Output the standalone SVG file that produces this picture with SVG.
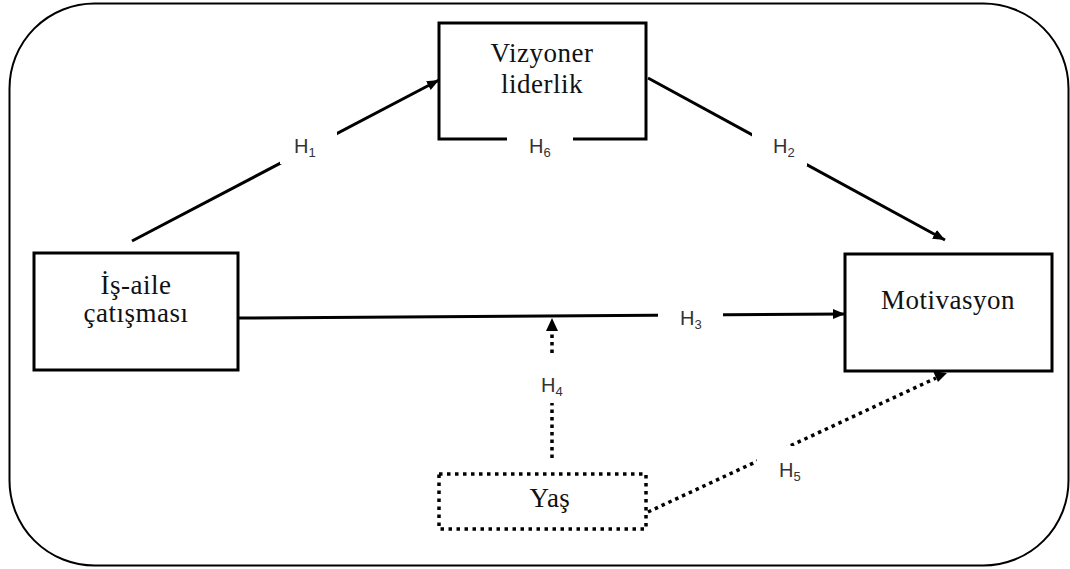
<svg xmlns="http://www.w3.org/2000/svg" width="1070" height="569" viewBox="0 0 1070 569">
  <style>
    .frame { fill: #fff; stroke: #000; stroke-width: 2; }
    .box { fill: #fff; stroke: #000; stroke-width: 3; }
    .dotbox { fill: #fff; stroke: #000; stroke-width: 3.5; stroke-dasharray: 3.5 4.5; }
    .link { fill: none; stroke: #000; stroke-width: 3; }
    .dotlink { fill: none; stroke: #000; stroke-width: 3.5; stroke-dasharray: 3.5 4; }
    .node-text { font-family: "Liberation Serif", "Times New Roman", serif; font-size: 27px; fill: #111; text-anchor: middle; letter-spacing: 0.5px; }
    .hyp { font-family: "Liberation Sans", Arial, sans-serif; font-size: 20px; fill: #333; }
    .sub { font-size: 13px; }
    .mask { fill: #fff; stroke: none; }
  </style>
  <defs>
    <marker id="head" markerUnits="userSpaceOnUse" markerWidth="13" markerHeight="11" refX="12" refY="5" orient="auto">
      <path d="M0,0 L12,5 L0,10 z" fill="#000"/>
    </marker>
  </defs>

  <!-- outer frame -->
  <rect class="frame" x="9.5" y="3.5" width="1059" height="562" rx="85" ry="85"/>

  <!-- connectors, with white label patches cutting them -->
  <g id="connectors">
    <line class="link" x1="132" y1="241" x2="439" y2="80" marker-end="url(#head)"/>
    <line class="link" x1="648" y1="78" x2="945" y2="240" marker-end="url(#head)"/>
    <line class="link" x1="238" y1="318" x2="845" y2="314" marker-end="url(#head)"/>
    <line class="dotlink" x1="552" y1="458" x2="552" y2="330"/>
    <path d="M546,331 L552,318 L558,331 z" fill="#000"/>
    <line class="dotlink" x1="648" y1="512" x2="936" y2="378"/>
    <path d="M933,371 L947,373 L938,382 z" fill="#000"/>
  </g>

  <!-- nodes -->
  <g id="node-vizyoner">
    <rect class="box" x="439" y="23" width="207" height="116"/>
    <text class="node-text" x="542" y="62">Vizyoner</text>
    <text class="node-text" x="542" y="93">liderlik</text>
  </g>
  <g id="node-is-aile">
    <rect class="box" x="34" y="253" width="204" height="117"/>
    <text class="node-text" x="136" y="294">İş-aile</text>
    <text class="node-text" x="136" y="322">çatışması</text>
  </g>
  <g id="node-motivasyon">
    <rect class="box" x="845" y="254" width="207" height="117"/>
    <text class="node-text" x="948" y="309">Motivasyon</text>
  </g>
  <g id="node-yas">
    <rect class="dotbox" x="439" y="474" width="207" height="55"/>
    <text class="node-text" x="550" y="507">Yaş</text>
  </g>

  <!-- hypothesis labels -->
  <g id="labels">
    <rect class="mask" x="280" y="131" width="57" height="33"/>
    <text class="hyp" x="294" y="153">H<tspan class="sub" dy="4">1</tspan></text>

    <rect class="mask" x="752" y="132" width="55" height="34"/>
    <text class="hyp" x="773" y="153">H<tspan class="sub" dy="4">2</tspan></text>

    <rect class="mask" x="658" y="305" width="65" height="26"/>
    <text class="hyp" x="680" y="325">H<tspan class="sub" dy="4">3</tspan></text>

    <rect class="mask" x="535" y="357" width="35" height="46"/>
    <text class="hyp" x="541" y="392">H<tspan class="sub" dy="4">4</tspan></text>

    <rect class="mask" x="757" y="446" width="60" height="50"/>
    <text class="hyp" x="779" y="477">H<tspan class="sub" dy="4">5</tspan></text>

    <rect class="mask" x="507" y="134" width="66" height="28"/>
    <text class="hyp" x="529" y="153">H<tspan class="sub" dy="4">6</tspan></text>
  </g>
</svg>
